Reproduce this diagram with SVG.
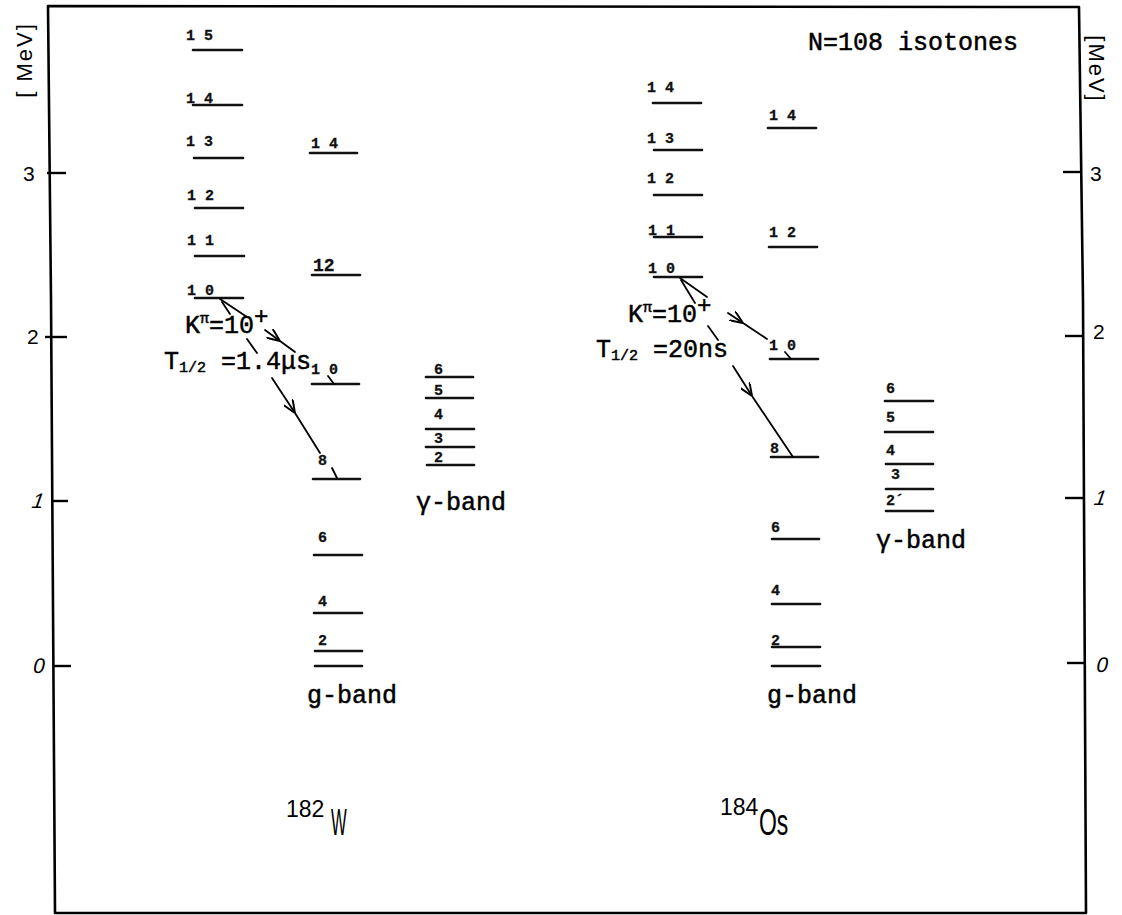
<svg xmlns="http://www.w3.org/2000/svg" width="1122" height="915" viewBox="0 0 1122 915">
  <style>
    .frame { fill: none; stroke: #000; stroke-width: 2.6; stroke-linejoin: round; }
    .tick { stroke: #000; stroke-width: 2.4; }
    .lvl { stroke: #111; stroke-width: 2.6; stroke-linecap: round; }
    .tr { fill: none; stroke: #000; stroke-width: 1.8; stroke-linecap: round; }
    .jl { font-family: "Liberation Mono", "DejaVu Sans Mono", monospace; font-weight: bold; font-size: 15px; fill: #111; stroke: #111; stroke-width: 0.3; }
    .mono { font-family: "Liberation Mono", "DejaVu Sans Mono", monospace; font-size: 25px; fill: #000; stroke: #000; stroke-width: 0.5; }
    .axn { font-family: "Liberation Sans", "DejaVu Sans", sans-serif; font-size: 21px; fill: #000; }
    .unit { font-family: "Liberation Sans", "DejaVu Sans", sans-serif; font-size: 22px; letter-spacing: 2px; fill: #000; }
    .nuc { font-family: "Liberation Sans", "DejaVu Sans", sans-serif; fill: #000; }
  </style>
  <defs>
    <marker id="chev" viewBox="0 0 12 10" refX="12" refY="5" markerWidth="13" markerHeight="11" markerUnits="userSpaceOnUse" orient="auto">
      <path d="M0,0 L12,5 L0,10" fill="none" stroke="#000" stroke-width="1.8"/>
    </marker>
  </defs>
  <rect width="1122" height="915" fill="#fff"/>

  <!-- outer frame and energy axes -->
  <g id="axes">
    <path class="frame" d="M48,6 L1079,7 L1083,300 L1086,913 L55,913 L51,300 Z"/>
    <line class="tick" x1="47" y1="173" x2="66" y2="173"/>
    <line class="tick" x1="45" y1="337" x2="67" y2="337"/>
    <line class="tick" x1="51" y1="501" x2="68" y2="501"/>
    <line class="tick" x1="53" y1="666" x2="71" y2="666"/>
    <line class="tick" x1="1063" y1="172" x2="1081" y2="172"/>
    <line class="tick" x1="1065" y1="336" x2="1083" y2="336"/>
    <line class="tick" x1="1065" y1="498" x2="1084" y2="498"/>
    <line class="tick" x1="1067" y1="663" x2="1085" y2="663"/>
    <text class="axn" x="23" y="181">3</text>
    <text class="axn" x="27" y="344">2</text>
    <text class="axn" x="31" y="508" transform="skewX(-20) translate(184,0)">1</text>
    <text class="axn" x="32" y="673" transform="skewX(-12) translate(143,0)">0</text>
    <text class="axn" x="1090" y="181">3</text>
    <text class="axn" x="1093" y="339">2</text>
    <text class="axn" x="1092" y="505" transform="skewX(-20) translate(184,0)">1</text>
    <text class="axn" x="1095" y="672" transform="skewX(-12) translate(143,0)">0</text>
    <text class="unit" transform="translate(32,60) rotate(-90)" text-anchor="middle">[ MeV]</text>
    <text class="unit" transform="translate(1089,69) rotate(90)" text-anchor="middle">[MeV]</text>
  </g>

  <text id="title" class="mono" x="808" y="50">N=108 isotones</text>

  <!-- 182W : K=10 band -->
  <g id="w182-k10">
    <line class="lvl" x1="193" y1="50" x2="242" y2="50"/>
    <line class="lvl" x1="193" y1="105" x2="242" y2="105"/>
    <line class="lvl" x1="194" y1="158" x2="243" y2="158"/>
    <line class="lvl" x1="195" y1="208" x2="243" y2="208"/>
    <line class="lvl" x1="195" y1="256" x2="244" y2="256"/>
    <line class="lvl" x1="195" y1="298" x2="243" y2="298"/>
    <text class="jl" x="186" y="40">1 5</text>
    <text class="jl" x="186" y="103">1 4</text>
    <text class="jl" x="186" y="146">1 3</text>
    <text class="jl" x="187" y="200">1 2</text>
    <text class="jl" x="187" y="245">1 1</text>
    <text class="jl" x="187" y="295">1 0</text>
  </g>

  <!-- 182W : ground band -->
  <g id="w182-g">
    <line class="lvl" x1="310" y1="153" x2="357" y2="153"/>
    <line class="lvl" x1="312" y1="275" x2="360" y2="275"/>
    <line class="lvl" x1="312" y1="384" x2="359" y2="384"/>
    <line class="lvl" x1="313" y1="479" x2="360" y2="479"/>
    <line class="lvl" x1="314" y1="555" x2="362" y2="555"/>
    <line class="lvl" x1="314" y1="613" x2="362" y2="613"/>
    <line class="lvl" x1="315" y1="651" x2="362" y2="651"/>
    <line class="lvl" x1="315" y1="666" x2="362" y2="666"/>
    <text class="jl" x="311" y="148">1 4</text>
    <text class="jl" x="313" y="271" style="font-size:18px">12</text>
    <text class="jl" x="311" y="374">1 0</text>
    <text class="jl" x="318" y="465">8</text>
    <text class="jl" x="318" y="542">6</text>
    <text class="jl" x="318" y="606">4</text>
    <text class="jl" x="318" y="645">2</text>
    <text class="mono" x="307" y="703">g-band</text>
  </g>

  <!-- 182W : gamma band -->
  <g id="w182-gamma">
    <line class="lvl" x1="426" y1="377" x2="473" y2="377"/>
    <line class="lvl" x1="426" y1="398" x2="473" y2="398"/>
    <line class="lvl" x1="426" y1="429" x2="474" y2="429"/>
    <line class="lvl" x1="426" y1="447" x2="474" y2="447"/>
    <line class="lvl" x1="427" y1="465" x2="474" y2="465"/>
    <text class="jl" x="434" y="374">6</text>
    <text class="jl" x="434" y="395">5</text>
    <text class="jl" x="434" y="419">4</text>
    <text class="jl" x="434" y="443">3</text>
    <text class="jl" x="434" y="462">2</text>
    <text class="mono" x="416" y="510">γ-band</text>
  </g>

  <!-- 182W : isomer labels and nucleus -->
  <g id="w182-labels">
    <text class="mono" x="185" y="333">K<tspan font-size="15" dy="-10">π</tspan><tspan dy="10">=10</tspan><tspan font-size="24" dy="-9">+</tspan></text>
    <text class="mono" x="164" y="369">T<tspan font-size="15" dy="3">1/2</tspan><tspan dy="-3"> =1.4μs</tspan></text>
    <circle cx="308" cy="367" r="1" fill="#000"/>
    <text class="nuc" x="286" y="817" font-size="23">182</text>
    <text class="nuc" font-size="37" transform="translate(331,835) scale(0.45,1)">W</text>
  </g>

  <!-- 184Os : K=10 band -->
  <g id="os184-k10">
    <line class="lvl" x1="653" y1="103" x2="701" y2="103"/>
    <line class="lvl" x1="654" y1="150" x2="702" y2="150"/>
    <line class="lvl" x1="654" y1="195" x2="702" y2="195"/>
    <line class="lvl" x1="654" y1="237" x2="702" y2="237"/>
    <line class="lvl" x1="654" y1="277" x2="702" y2="277"/>
    <text class="jl" x="647" y="92">1 4</text>
    <text class="jl" x="647" y="143">1 3</text>
    <text class="jl" x="647" y="183">1 2</text>
    <text class="jl" x="648" y="235">1 1</text>
    <text class="jl" x="648" y="273">1 0</text>
  </g>

  <!-- 184Os : ground band -->
  <g id="os184-g">
    <line class="lvl" x1="768" y1="128" x2="816" y2="128"/>
    <line class="lvl" x1="769" y1="247" x2="817" y2="247"/>
    <line class="lvl" x1="770" y1="359" x2="818" y2="359"/>
    <line class="lvl" x1="771" y1="457" x2="818" y2="457"/>
    <line class="lvl" x1="772" y1="539" x2="819" y2="539"/>
    <line class="lvl" x1="772" y1="604" x2="820" y2="604"/>
    <line class="lvl" x1="772" y1="647" x2="820" y2="647"/>
    <line class="lvl" x1="772" y1="666" x2="820" y2="666"/>
    <text class="jl" x="769" y="120">1 4</text>
    <text class="jl" x="769" y="237">1 2</text>
    <text class="jl" x="769" y="350">1 0</text>
    <text class="jl" x="770" y="453">8</text>
    <text class="jl" x="771" y="532">6</text>
    <text class="jl" x="771" y="595">4</text>
    <text class="jl" x="771" y="645">2</text>
    <text class="mono" x="767" y="703">g-band</text>
  </g>

  <!-- 184Os : gamma band -->
  <g id="os184-gamma">
    <line class="lvl" x1="885" y1="401" x2="933" y2="401"/>
    <line class="lvl" x1="885" y1="432" x2="933" y2="432"/>
    <line class="lvl" x1="886" y1="464" x2="933" y2="464"/>
    <line class="lvl" x1="886" y1="489" x2="933" y2="489"/>
    <line class="lvl" x1="886" y1="511" x2="933" y2="511"/>
    <text class="jl" x="886" y="393">6</text>
    <text class="jl" x="886" y="422">5</text>
    <text class="jl" x="886" y="455">4</text>
    <text class="jl" x="891" y="479">3</text>
    <text class="jl" x="886" y="505">2´</text>
    <text class="mono" x="876" y="548">γ-band</text>
  </g>

  <!-- 184Os : isomer labels and nucleus -->
  <g id="os184-labels">
    <text class="mono" x="628" y="322">K<tspan font-size="15" dy="-10">π</tspan><tspan dy="10">=10</tspan><tspan font-size="24" dy="-9">+</tspan></text>
    <text class="mono" x="596" y="357">T<tspan font-size="15" dy="3">1/2</tspan><tspan dy="-3"> =20ns</tspan></text>
    <text class="nuc" x="720" y="815" font-size="23">184</text>
    <text class="nuc" font-size="37" transform="translate(759,835) scale(0.62,1)">Os</text>
  </g>

  <!-- decay transitions out of the K=10 isomers -->
  <g id="transitions">
    <line class="tr" x1="220" y1="299" x2="247" y2="317"/>
    <path class="tr" d="M265,330 L280,341 L295,352" marker-mid="url(#chev)"/>
    <line class="tr" x1="328" y1="376" x2="334" y2="384"/>
    <line class="tr" x1="222" y1="302" x2="230" y2="314"/>
    <line class="tr" x1="247" y1="339" x2="257" y2="353"/>
    <path class="tr" d="M272,378 L295,413 L320,453" marker-mid="url(#chev)"/>
    <line class="tr" x1="332" y1="468" x2="337" y2="478"/>

    <line class="tr" x1="680" y1="278" x2="707" y2="297"/>
    <path class="tr" d="M728,313 L743,323 L767,339" marker-mid="url(#chev)"/>
    <line class="tr" x1="785" y1="352" x2="791" y2="359"/>
    <line class="tr" x1="681" y1="280" x2="695" y2="303"/>
    <line class="tr" x1="708" y1="326" x2="718" y2="340"/>
    <path class="tr" d="M733,366 L752,396 L793,457" marker-mid="url(#chev)"/>
  </g>
</svg>
